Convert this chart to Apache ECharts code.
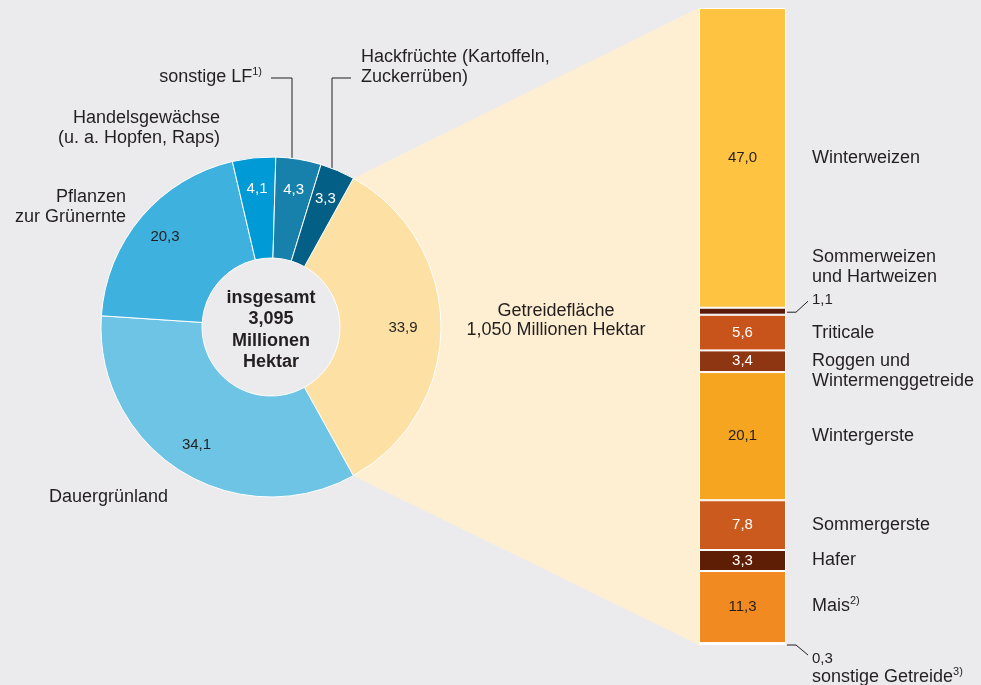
<!DOCTYPE html>
<html>
<head>
<meta charset="utf-8">
<script src="https://cdn.jsdelivr.net/npm/echarts@6/dist/echarts.min.js"></script>
<style>
  html, body { margin: 0; padding: 0; background: #ebebed; }
  #chart { width: 981px; height: 685px; }
</style>
</head>
<body>
<div id="chart"></div>
<script>
// Landwirtschaftlich genutzte Fläche (Anteile in %)
const pieNames = ['Getreide', 'Dauergrünland', 'Pflanzen zur Grünernte', 'Handelsgewächse', 'sonstige LF', 'Hackfrüchte']
const pieValues = [33.9, 34.1, 20.3, 4.1, 4.3, 3.3]

// Getreidefläche (Anteile in %)
const cerealNames = ['Winterweizen', 'Sommerweizen und Hartweizen', 'Triticale', 'Roggen und Wintermenggetreide',
  'Wintergerste', 'Sommergerste', 'Hafer', 'Mais', 'sonstige Getreide']
const cerealValues = [47.0, 1.1, 5.6, 3.4, 20.1, 7.8, 3.3, 11.3, 0.3]

const pieColors = ['#fde1a4', '#6ec4e4', '#3fb1de', '#009ad6', '#1881ab', '#035f86']
const pieLabelColors = ['#231f20', '#231f20', '#231f20', '#fff', '#fff', '#fff']
const cerealColors = ['#ffc342', '#5b1a0a', '#c8531b', '#8e3512', '#f6a521', '#ca5a1d', '#5e1d05', '#f28a22', '#fde3a8']
const cerealLabelColors = ['#231f20', null, '#fff', '#fff', '#231f20', '#fff', '#fff', '#231f20', null]

const FONT = '"Liberation Sans", Arial, Helvetica, sans-serif'
const TEXT = '#231f20'
const fmt = v => v.toFixed(1).replace('.', ',')

const cx = 271
const cy = 327
const rIn = 69
const rOut = 170
const pieTotal = pieValues.reduce((a, b) => a + b, 0)
const cerealTotal = cerealValues.reduce((a, b) => a + b, 0)
// Getreide-Segment symmetrisch um die Horizontale legen
const startAngle = pieValues[0] / pieTotal * 180

const grid = { left: 699, top: 8, width: 87, height: 637 }

const chart = echarts.init(document.getElementById('chart'))

const pieData = pieValues.map((v, i) => ({
  name: pieNames[i],
  value: v,
  itemStyle: { color: pieColors[i] }
}))

chart.setOption({
  backgroundColor: '#ebebed',
  animation: false,
  textStyle: { fontFamily: FONT },
  grid: grid,
  xAxis: { type: 'category', data: ['Getreide'], show: false },
  yAxis: { type: 'value', min: 0, max: cerealTotal, inverse: true, show: false },
  series: [
    {
      type: 'pie',
      center: [cx, cy],
      radius: [rIn, rOut],
      startAngle: startAngle,
      clockwise: true,
      silent: true,
      label: { show: false },
      labelLine: { show: false },
      itemStyle: { borderColor: '#fff', borderWidth: 1 },
      data: pieData,
      z: 3
    },
    {
      // unsichtbarer Ring nur für die Wertbeschriftung
      type: 'pie',
      center: [cx, cy],
      radius: [102, rOut],
      startAngle: startAngle,
      clockwise: true,
      silent: true,
      itemStyle: { color: 'rgba(0,0,0,0)' },
      labelLine: { show: false },
      data: pieValues.map((v, i) => ({
        name: pieNames[i],
        value: v,
        label: {
          show: true,
          position: 'inside',
          formatter: fmt(v),
          color: pieLabelColors[i],
          fontSize: 15,
          fontFamily: FONT,
          offset: i === 0 ? [-7, 1] : [0, 0]
        }
      })),
      z: 4
    },
    ...cerealValues.map((v, i) => ({
      type: 'bar',
      name: cerealNames[i],
      stack: 'getreide',
      barWidth: '100%',
      silent: true,
      data: [v],
      itemStyle: { color: cerealColors[i], borderColor: '#fff', borderWidth: 1 },
      label: {
        show: cerealLabelColors[i] !== null,
        position: 'inside',
        formatter: fmt(v),
        color: cerealLabelColors[i] || TEXT,
        fontSize: 15,
        fontFamily: FONT
      }
    }))
  ]
})

// Beschriftungen und Verbindungsfläche
const txt = (x, y, text, extra) => ({
  type: 'text',
  x: x,
  y: y,
  silent: true,
  style: Object.assign({
    text: text,
    fontFamily: FONT,
    fontSize: 18,
    fill: TEXT,
    align: 'left',
    verticalAlign: 'middle',
    lineHeight: 20
  }, extra || {})
})
const supRich = {
  a: { fontSize: 18, fontFamily: FONT, fill: TEXT, lineHeight: 22 },
  s: { fontSize: 11, fontFamily: FONT, fill: TEXT, lineHeight: 10, verticalAlign: 'top' }
}
const line = (points) => ({
  type: 'polyline',
  silent: true,
  shape: { points: points },
  style: { stroke: '#231f20', lineWidth: 1, fill: null }
})

const a0 = startAngle * Math.PI / 180
const coneTop = [cx + rOut * Math.cos(a0), cy - rOut * Math.sin(a0)]
const coneBottom = [cx + rOut * Math.cos(a0), cy + rOut * Math.sin(a0)]
const yPix = v => chart.convertToPixel({ yAxisIndex: 0 }, v)
const barLeft = grid.left
const barRight = grid.left + grid.width
const barTop = yPix(0)
const barBottom = yPix(cerealTotal)

const mids = []
let cum = 0
cerealValues.forEach(v => {
  mids.push(yPix(cum + v / 2))
  cum += v
})

const nameX = barRight + 26
const pieEdgeY = x => cy - Math.sqrt(rOut * rOut - (x - cx) * (x - cx))

chart.setOption({
  graphic: [
    {
      type: 'polygon',
      silent: true,
      z: -10,
      shape: { points: [coneTop, [barLeft, barTop], [barLeft, barBottom], coneBottom] },
      style: { fill: '#feefd3' }
    },
    // Mitte
    txt(cx, cy + 3, 'insgesamt\n3,095\nMillionen\nHektar', { align: 'center', fontWeight: 'bold', lineHeight: 21.5 }),
    txt(556, 321, 'Getreidefläche\n1,050 Millionen Hektar', { align: 'center', lineHeight: 19 }),
    // Kreis-Beschriftungen
    txt(49, 497, 'Dauergrünland'),
    txt(126, 207, 'Pflanzen\nzur Grünernte', { align: 'right' }),
    txt(220, 128, 'Handelsgewächse\n(u. a. Hopfen, Raps)', { align: 'right' }),
    txt(262, 77, '{a|sonstige LF}{s|1)}', { align: 'right', rich: supRich }),
    line([[271, 78], [292, 78], [292, pieEdgeY(292)]]),
    txt(361, 67, 'Hackfrüchte (Kartoffeln,\nZuckerrüben)'),
    line([[351, 78], [332, 78], [332, pieEdgeY(332)]]),
    // Balken-Beschriftungen
    txt(nameX, mids[0], cerealNames[0]),
    txt(nameX, mids[1] - 44, 'Sommerweizen\nund Hartweizen'),
    txt(nameX, mids[1] - 11, fmt(cerealValues[1]), { fontSize: 15 }),
    line([[barRight + 1, mids[1] + 1], [barRight + 10, mids[1] + 1], [barRight + 22, mids[1] - 10]]),
    txt(nameX, mids[2], cerealNames[2]),
    txt(nameX, mids[3] + 10, 'Roggen und\nWintermenggetreide'),
    txt(nameX, mids[4], cerealNames[4]),
    txt(nameX, mids[5], cerealNames[5]),
    txt(nameX, mids[6], cerealNames[6]),
    txt(nameX, mids[7] - 1, '{a|Mais}{s|2)}', { rich: supRich }),
    line([[barRight + 1, barBottom], [barRight + 10, barBottom], [barRight + 22, barBottom + 10]]),
    txt(nameX, barBottom + 14, fmt(cerealValues[8]), { fontSize: 15 }),
    txt(nameX, barBottom + 32, '{a|sonstige Getreide}{s|3)}', { rich: supRich })
  ]
})
</script>
</body>
</html>
